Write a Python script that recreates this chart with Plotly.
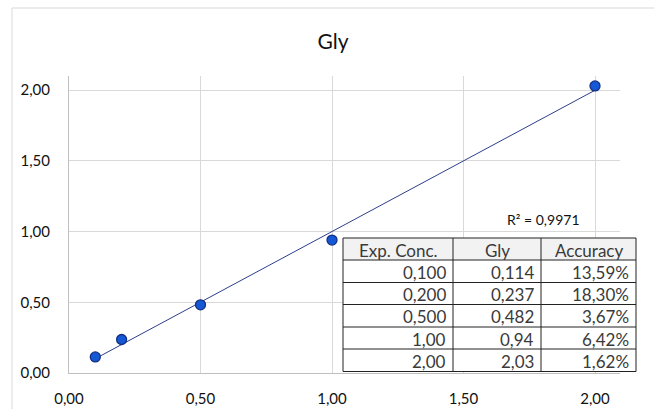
import numpy as np
import plotly.graph_objects as go

W, H = 654, 409
exp_conc = [0.1, 0.2, 0.5, 1.0, 2.0]
gly = [0.114, 0.237, 0.482, 0.94, 2.03]
tbl_conc = ["0,100", "0,200", "0,500", "1,00", "2,00"]
tbl_gly = ["0,114", "0,237", "0,482", "0,94", "2,03"]
tbl_acc = ["13,59%", "18,30%", "3,67%", "6,42%", "1,62%"]
headers = ["Exp. Conc.", "Gly", "Accuracy"]
r2_label = "R² = 0,9971"
title = "Gly"
xticks = [0, 0.5, 1.0, 1.5, 2.0]
yticks = [0, 0.5, 1.0, 1.5, 2.0]

slope, intercept = np.polyfit(exp_conc, gly, 1)
xfit = np.array([min(exp_conc), max(exp_conc)])
yfit = slope * xfit + intercept

def px(x):
    return x / W

def py(y):
    return 1 - y / H

fig = go.Figure()
fig.add_trace(go.Scatter(x=xfit, y=yfit, mode="lines",
                         line=dict(color="#2c3f8c", width=1), hoverinfo="skip"))
fig.add_trace(go.Scatter(x=exp_conc, y=gly, mode="markers",
                         marker=dict(size=10, color="#1458d6",
                                     line=dict(color="#143080", width=1.3))))

# ---- table drawn with shapes + annotations (pixel layout) ----
col_edges = [343, 453, 541, 636]
row_edges = [238, 260, 282.5, 304.5, 327, 349, 371.5]
tfont = dict(family="Lato", size=17, color="#3a3a3a")
shapes = []
annotations = []
shapes.append(dict(type="rect", xref="paper", yref="paper",
                   x0=px(col_edges[0]), x1=px(col_edges[-1]),
                   y0=py(row_edges[1]), y1=py(row_edges[0]),
                   fillcolor="#f2f2f2", line=dict(width=0), layer="above"))
shapes.append(dict(type="rect", xref="paper", yref="paper",
                   x0=px(col_edges[0]), x1=px(col_edges[-1]),
                   y0=py(row_edges[-1]), y1=py(row_edges[1]),
                   fillcolor="white", line=dict(width=0), layer="above"))
for yv in row_edges:
    shapes.append(dict(type="line", xref="paper", yref="paper",
                       x0=px(col_edges[0]), x1=px(col_edges[-1]), y0=py(yv), y1=py(yv),
                       line=dict(color="#222222", width=1), layer="above"))
for xv in col_edges:
    shapes.append(dict(type="line", xref="paper", yref="paper",
                       x0=px(xv), x1=px(xv), y0=py(row_edges[-1]), y1=py(row_edges[0]),
                       line=dict(color="#222222", width=1), layer="above"))
for j, h in enumerate(headers):
    annotations.append(dict(text=h, xref="paper", yref="paper",
                            x=px((col_edges[j] + col_edges[j + 1]) / 2),
                            y=py((row_edges[0] + row_edges[1]) / 2 + 1),
                            xanchor="center", yanchor="middle", showarrow=False, font=tfont))
columns = [tbl_conc, tbl_gly, tbl_acc]
for j, col in enumerate(columns):
    for i, v in enumerate(col):
        annotations.append(dict(text=v, xref="paper", yref="paper",
                                x=px(col_edges[j + 1] - 5),
                                y=py((row_edges[i + 1] + row_edges[i + 2]) / 2 + 1),
                                xanchor="right", yanchor="middle", showarrow=False,
                                font=tfont))

annotations.append(dict(text=r2_label, xref="paper", yref="paper", x=px(582), y=py(219),
                        xanchor="right", yanchor="middle", showarrow=False,
                        font=dict(family="Lato", size=14, color="#111111")))
shapes += [dict(type="line", xref="paper", yref="paper", x0=px(12), x1=px(12),
                y0=0, y1=py(8), line=dict(color="#d9d9d9", width=1)),
           dict(type="line", xref="paper", yref="paper", x0=px(12), x1=1,
                y0=py(8), y1=py(8), line=dict(color="#d9d9d9", width=1))]

fig.update_layout(
    width=W, height=H,
    margin=dict(l=0, r=0, t=0, b=0),
    paper_bgcolor="white", plot_bgcolor="white",
    showlegend=False,
    separators=",.",
    title=dict(text=title, x=px(333), y=py(42), xanchor="center", yanchor="middle",
               font=dict(family="Lato", size=21, color="#111111")),
    xaxis=dict(domain=[px(69), px(620)], range=[0, 2.095], tickvals=xticks,
               tickformat=".2f", showgrid=True, gridcolor="#d9d9d9", gridwidth=1,
               zeroline=False, showline=True, linecolor="#bfbfbf", linewidth=1,
               ticks="", ticklabelstandoff=12,
               tickfont=dict(family="Lato", size=15, color="#111111"),
               automargin=False),
    yaxis=dict(domain=[py(373), py(76)], range=[0, 2.1], tickvals=yticks,
               tickformat=".2f", showgrid=True, gridcolor="#d9d9d9", gridwidth=1,
               zeroline=False, showline=True, linecolor="#bfbfbf", linewidth=1,
               ticks="", ticklabelstandoff=15,
               tickfont=dict(family="Lato", size=15, color="#111111"),
               automargin=False),
    annotations=annotations,
    shapes=shapes,
)
fig.write_html("out.html")
